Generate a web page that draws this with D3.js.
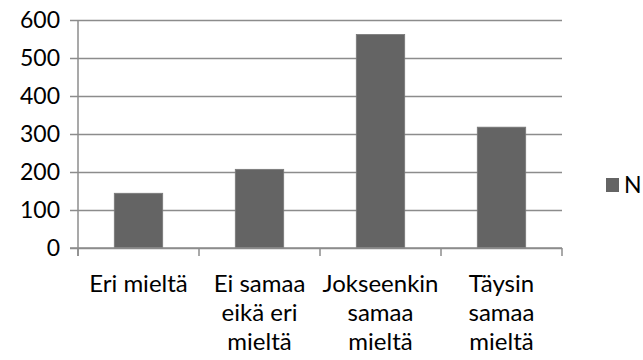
<!DOCTYPE html>
<html>
<head>
<meta charset="utf-8">
<script src="https://cdn.jsdelivr.net/npm/d3@7"></script>
<style>
  html, body { margin: 0; padding: 0; background: #fff; }
  svg text { font-family: "Lato", "Liberation Sans", sans-serif; fill: #000; }
</style>
</head>
<body>
<svg id="chart" width="643" height="360"></svg>
<script>
const categories = [
  ["Eri mieltä"],
  ["Ei samaa", "eikä eri", "mieltä"],
  ["Jokseenkin", "samaa", "mieltä"],
  ["Täysin", "samaa", "mieltä"]
];
const seriesName = "N";
const values = [144, 207, 562, 318];
const yTicks = [0, 100, 200, 300, 400, 500, 600];

const svg = d3.select("#chart");
const mLeft = 78, mRight = 562, mTop = 20, mBottom = 248;
const fontSize = 23;
const catFontSize = 24;
const barColor = "#646464";
const gridColor = "#8c8c8c";

const x = d3.scaleBand()
  .domain(d3.range(categories.length))
  .range([mLeft, mRight])
  .paddingInner(0.6)
  .paddingOuter(0.3);

const y = d3.scaleLinear().domain([0, 600]).range([mBottom, mTop]);

// gridlines + y axis
const yAxis = d3.axisLeft(y).tickValues(yTicks).tickSize(-(mRight - mLeft)).tickPadding(18);
const gy = svg.append("g").attr("transform", `translate(${mLeft},0)`).call(yAxis);
gy.select(".domain").remove();
gy.selectAll(".tick line").attr("stroke", gridColor).attr("stroke-width", 1.5).attr("x1", -8);
gy.selectAll(".tick text").attr("font-size", fontSize).attr("font-family", "Lato").attr("fill", "#000").attr("dy", "0.34em");

// bars
svg.append("g").selectAll("rect").data(values).join("rect")
  .attr("x", (d, i) => x(i))
  .attr("width", x.bandwidth())
  .attr("y", d => y(d))
  .attr("height", d => y(0) - y(d))
  .attr("fill", barColor)
  .attr("stroke", "#7a7a7a")
  .attr("stroke-width", 0.8);

// vertical axis line
svg.append("line")
  .attr("x1", mLeft).attr("x2", mLeft).attr("y1", mTop).attr("y2", mBottom + 8)
  .attr("stroke", gridColor).attr("stroke-width", 1.5);

// x axis baseline and ticks
svg.append("line")
  .attr("x1", mLeft - 8).attr("x2", mRight).attr("y1", mBottom).attr("y2", mBottom)
  .attr("stroke", gridColor).attr("stroke-width", 1.5);
const boundaries = d3.range(categories.length + 1).map(i => mLeft + i * x.step());
svg.append("g").selectAll("line").data(boundaries).join("line")
  .attr("x1", d => d).attr("x2", d => d)
  .attr("y1", mBottom).attr("y2", mBottom + 8)
  .attr("stroke", gridColor).attr("stroke-width", 1.5);

// category labels
const lab = svg.append("g").selectAll("text").data(categories).join("text")
  .attr("text-anchor", "middle")
  .attr("font-size", catFontSize)
  .attr("x", (d, i) => x(i) + x.bandwidth() / 2)
  .attr("y", 292);
lab.selectAll("tspan").data(d => d).join("tspan")
  .attr("x", function() { return this.parentNode.getAttribute("x"); })
  .attr("dy", (d, i) => i === 0 ? 0 : 29)
  .text(d => d);

// legend
const lg = svg.append("g");
lg.append("rect").attr("x", 606).attr("y", 178).attr("width", 13).attr("height", 14).attr("fill", barColor);
lg.append("text").attr("x", 624).attr("y", 185).attr("dy", "0.36em").attr("font-size", fontSize).text(seriesName);
</script>
</body>
</html>
